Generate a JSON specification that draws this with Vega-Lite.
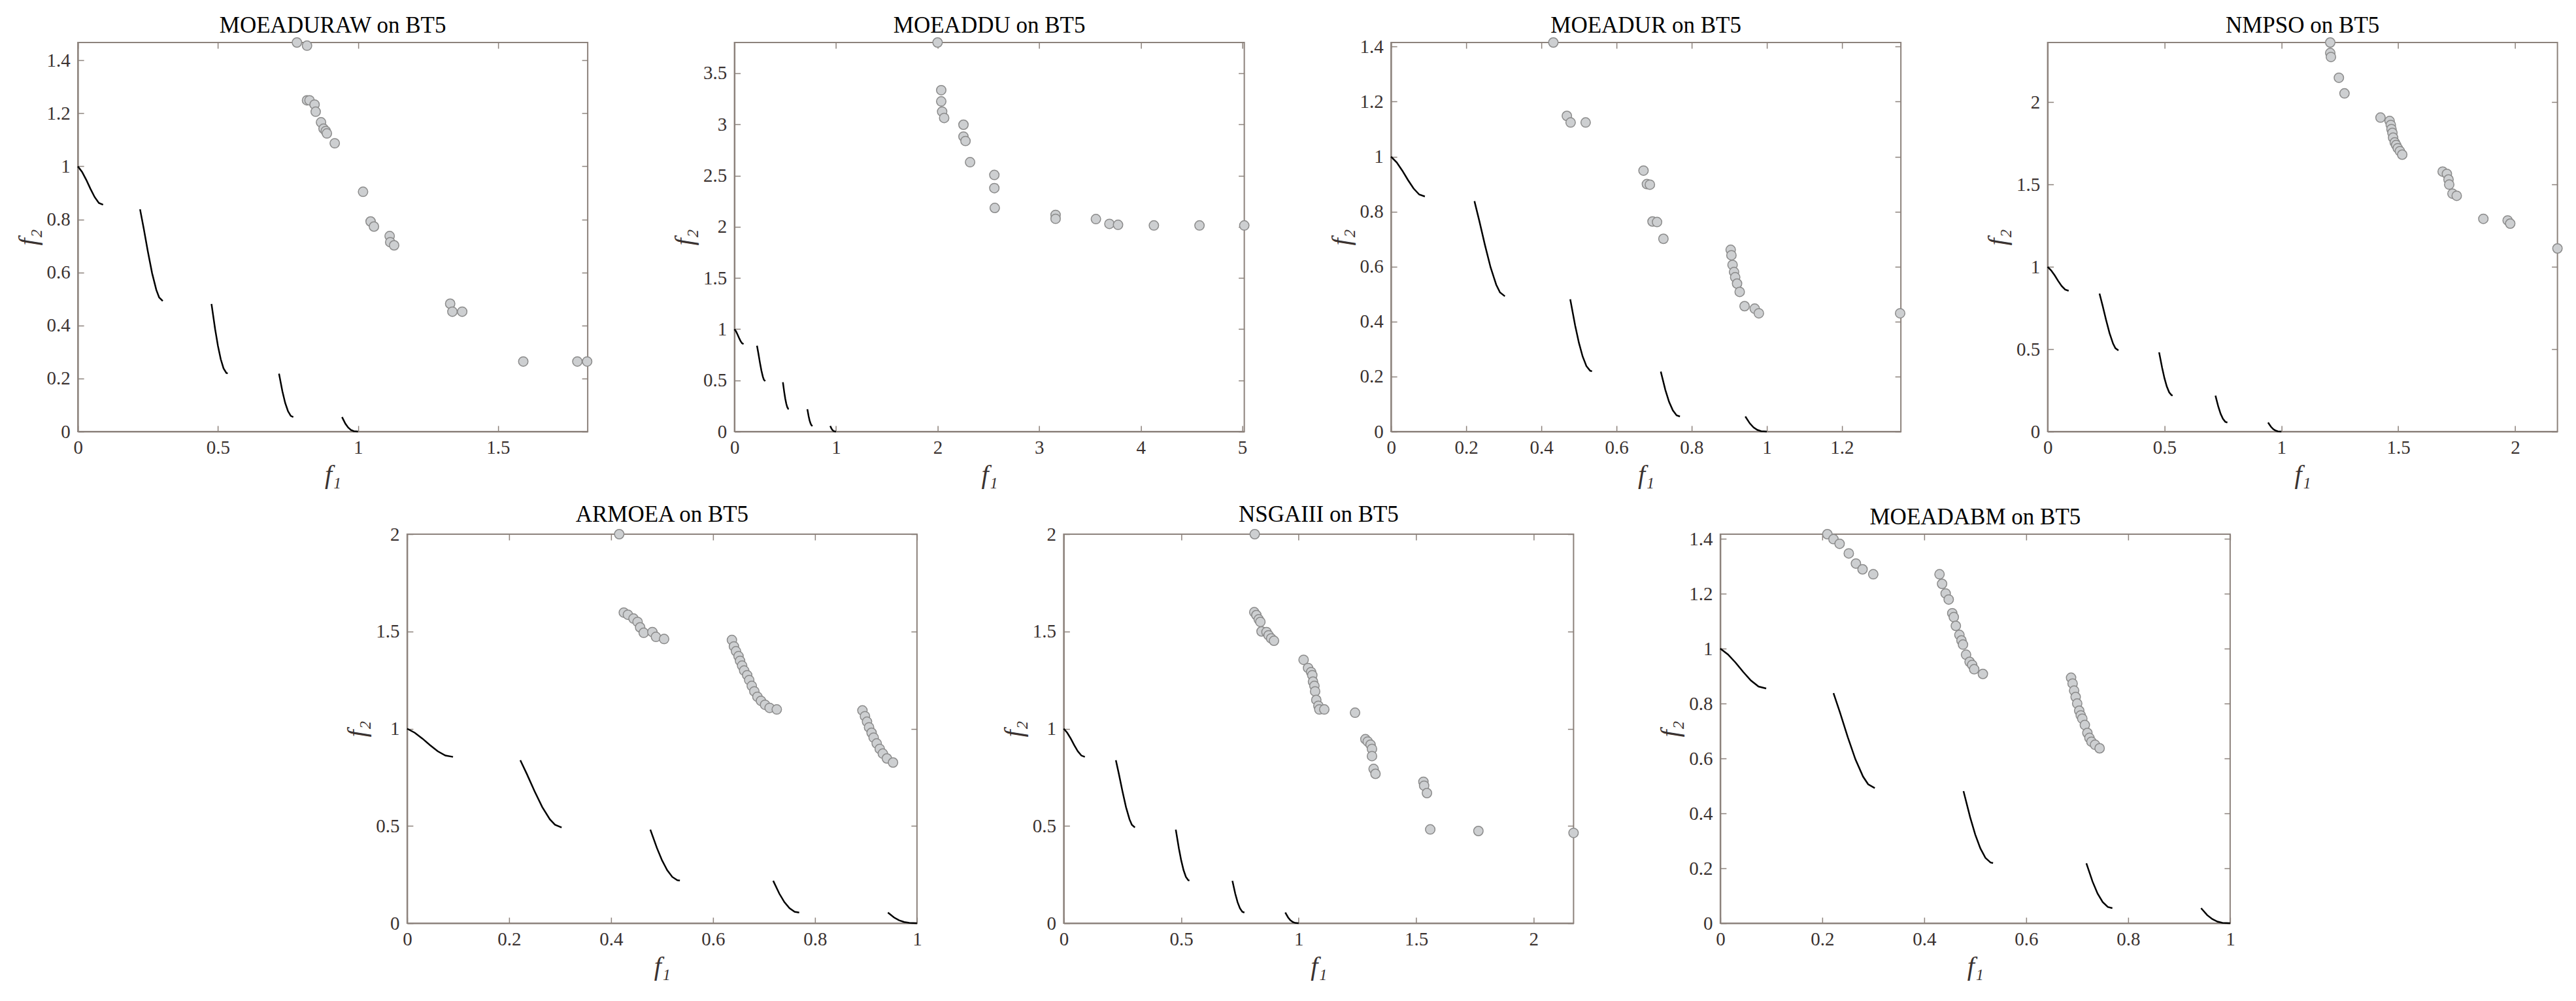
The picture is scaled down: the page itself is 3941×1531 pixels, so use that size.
{
  "$schema": "https://vega.github.io/schema/vega-lite/v6.json",
  "background": "white",
  "padding": {"left": 22, "top": 20, "right": 5, "bottom": 5},
  "datasets": {
    "pf": [
      {"seg": 1, "f1": 0.0, "f2": 1.0}, {"seg": 1, "f1": 0.015, "f2": 0.979}, {"seg": 1, "f1": 0.03, "f2": 0.949}, {"seg": 1, "f1": 0.045, "f2": 0.915}, {"seg": 1, "f1": 0.06, "f2": 0.884}, {"seg": 1, "f1": 0.075, "f2": 0.862}, {"seg": 1, "f1": 0.09, "f2": 0.855},
      {"seg": 2, "f1": 0.222, "f2": 0.838}, {"seg": 2, "f1": 0.235, "f2": 0.766}, {"seg": 2, "f1": 0.25, "f2": 0.678}, {"seg": 2, "f1": 0.265, "f2": 0.597}, {"seg": 2, "f1": 0.28, "f2": 0.534}, {"seg": 2, "f1": 0.29, "f2": 0.506}, {"seg": 2, "f1": 0.303, "f2": 0.492},
      {"seg": 3, "f1": 0.477, "f2": 0.481}, {"seg": 3, "f1": 0.49, "f2": 0.386}, {"seg": 3, "f1": 0.5, "f2": 0.323}, {"seg": 3, "f1": 0.51, "f2": 0.273}, {"seg": 3, "f1": 0.52, "f2": 0.238}, {"seg": 3, "f1": 0.53, "f2": 0.221}, {"seg": 3, "f1": 0.535, "f2": 0.219},
      {"seg": 4, "f1": 0.718, "f2": 0.218}, {"seg": 4, "f1": 0.73, "f2": 0.152}, {"seg": 4, "f1": 0.74, "f2": 0.108}, {"seg": 4, "f1": 0.75, "f2": 0.077}, {"seg": 4, "f1": 0.76, "f2": 0.059}, {"seg": 4, "f1": 0.769, "f2": 0.0547},
      {"seg": 5, "f1": 0.943, "f2": 0.0547}, {"seg": 5, "f1": 0.955, "f2": 0.0295}, {"seg": 5, "f1": 0.965, "f2": 0.0149}, {"seg": 5, "f1": 0.975, "f2": 0.0059}, {"seg": 5, "f1": 0.985, "f2": 0.0014}, {"seg": 5, "f1": 1.0, "f2": 0.0}
    ],
    "pop": [
      {"alg": "MOEADURAW", "f1": 0.782, "f2": 1.467}, {"alg": "MOEADURAW", "f1": 0.818, "f2": 1.455}, {"alg": "MOEADURAW", "f1": 0.818, "f2": 1.249}, {"alg": "MOEADURAW", "f1": 0.827, "f2": 1.249}, {"alg": "MOEADURAW", "f1": 0.845, "f2": 1.233}, {"alg": "MOEADURAW", "f1": 0.849, "f2": 1.206}, {"alg": "MOEADURAW", "f1": 0.868, "f2": 1.166}, {"alg": "MOEADURAW", "f1": 0.877, "f2": 1.142}, {"alg": "MOEADURAW", "f1": 0.885, "f2": 1.133}, {"alg": "MOEADURAW", "f1": 0.889, "f2": 1.124}, {"alg": "MOEADURAW", "f1": 0.917, "f2": 1.087}, {"alg": "MOEADURAW", "f1": 1.018, "f2": 0.904}, {"alg": "MOEADURAW", "f1": 1.045, "f2": 0.792}, {"alg": "MOEADURAW", "f1": 1.057, "f2": 0.773}, {"alg": "MOEADURAW", "f1": 1.113, "f2": 0.737}, {"alg": "MOEADURAW", "f1": 1.115, "f2": 0.714}, {"alg": "MOEADURAW", "f1": 1.129, "f2": 0.702}, {"alg": "MOEADURAW", "f1": 1.329, "f2": 0.482}, {"alg": "MOEADURAW", "f1": 1.337, "f2": 0.452}, {"alg": "MOEADURAW", "f1": 1.372, "f2": 0.452}, {"alg": "MOEADURAW", "f1": 1.59, "f2": 0.264}, {"alg": "MOEADURAW", "f1": 1.783, "f2": 0.264}, {"alg": "MOEADURAW", "f1": 1.818, "f2": 0.264},
      {"alg": "MOEADDU", "f1": 2.0, "f2": 3.8}, {"alg": "MOEADDU", "f1": 2.036, "f2": 3.334}, {"alg": "MOEADDU", "f1": 2.036, "f2": 3.225}, {"alg": "MOEADDU", "f1": 2.045, "f2": 3.125}, {"alg": "MOEADDU", "f1": 2.065, "f2": 3.063}, {"alg": "MOEADDU", "f1": 2.255, "f2": 2.997}, {"alg": "MOEADDU", "f1": 2.255, "f2": 2.881}, {"alg": "MOEADDU", "f1": 2.275, "f2": 2.838}, {"alg": "MOEADDU", "f1": 2.32, "f2": 2.631}, {"alg": "MOEADDU", "f1": 2.559, "f2": 2.506}, {"alg": "MOEADDU", "f1": 2.559, "f2": 2.378}, {"alg": "MOEADDU", "f1": 2.563, "f2": 2.184}, {"alg": "MOEADDU", "f1": 3.162, "f2": 2.116}, {"alg": "MOEADDU", "f1": 3.162, "f2": 2.078}, {"alg": "MOEADDU", "f1": 3.559, "f2": 2.075}, {"alg": "MOEADDU", "f1": 3.692, "f2": 2.028}, {"alg": "MOEADDU", "f1": 3.777, "f2": 2.019}, {"alg": "MOEADDU", "f1": 4.13, "f2": 2.013}, {"alg": "MOEADDU", "f1": 4.579, "f2": 2.013}, {"alg": "MOEADDU", "f1": 5.02, "f2": 2.013},
      {"alg": "MOEADUR", "f1": 0.432, "f2": 1.415}, {"alg": "MOEADUR", "f1": 0.468, "f2": 1.148}, {"alg": "MOEADUR", "f1": 0.478, "f2": 1.124}, {"alg": "MOEADUR", "f1": 0.518, "f2": 1.124}, {"alg": "MOEADUR", "f1": 0.672, "f2": 0.949}, {"alg": "MOEADUR", "f1": 0.681, "f2": 0.9}, {"alg": "MOEADUR", "f1": 0.689, "f2": 0.898}, {"alg": "MOEADUR", "f1": 0.696, "f2": 0.764}, {"alg": "MOEADUR", "f1": 0.708, "f2": 0.762}, {"alg": "MOEADUR", "f1": 0.725, "f2": 0.701}, {"alg": "MOEADUR", "f1": 0.904, "f2": 0.661}, {"alg": "MOEADUR", "f1": 0.906, "f2": 0.641}, {"alg": "MOEADUR", "f1": 0.909, "f2": 0.606}, {"alg": "MOEADUR", "f1": 0.913, "f2": 0.58}, {"alg": "MOEADUR", "f1": 0.916, "f2": 0.561}, {"alg": "MOEADUR", "f1": 0.921, "f2": 0.538}, {"alg": "MOEADUR", "f1": 0.928, "f2": 0.508}, {"alg": "MOEADUR", "f1": 0.941, "f2": 0.456}, {"alg": "MOEADUR", "f1": 0.968, "f2": 0.447}, {"alg": "MOEADUR", "f1": 0.979, "f2": 0.43}, {"alg": "MOEADUR", "f1": 1.355, "f2": 0.43},
      {"alg": "NMPSO", "f1": 1.209, "f2": 2.363}, {"alg": "NMPSO", "f1": 1.209, "f2": 2.299}, {"alg": "NMPSO", "f1": 1.212, "f2": 2.275}, {"alg": "NMPSO", "f1": 1.246, "f2": 2.149}, {"alg": "NMPSO", "f1": 1.27, "f2": 2.054}, {"alg": "NMPSO", "f1": 1.424, "f2": 1.907}, {"alg": "NMPSO", "f1": 1.463, "f2": 1.886}, {"alg": "NMPSO", "f1": 1.468, "f2": 1.862}, {"alg": "NMPSO", "f1": 1.471, "f2": 1.837}, {"alg": "NMPSO", "f1": 1.475, "f2": 1.814}, {"alg": "NMPSO", "f1": 1.478, "f2": 1.785}, {"alg": "NMPSO", "f1": 1.485, "f2": 1.756}, {"alg": "NMPSO", "f1": 1.491, "f2": 1.74}, {"alg": "NMPSO", "f1": 1.498, "f2": 1.721}, {"alg": "NMPSO", "f1": 1.507, "f2": 1.703}, {"alg": "NMPSO", "f1": 1.517, "f2": 1.682}, {"alg": "NMPSO", "f1": 1.69, "f2": 1.579}, {"alg": "NMPSO", "f1": 1.708, "f2": 1.565}, {"alg": "NMPSO", "f1": 1.715, "f2": 1.531}, {"alg": "NMPSO", "f1": 1.718, "f2": 1.5}, {"alg": "NMPSO", "f1": 1.732, "f2": 1.445}, {"alg": "NMPSO", "f1": 1.75, "f2": 1.432}, {"alg": "NMPSO", "f1": 1.864, "f2": 1.292}, {"alg": "NMPSO", "f1": 1.968, "f2": 1.282}, {"alg": "NMPSO", "f1": 1.979, "f2": 1.263}, {"alg": "NMPSO", "f1": 2.181, "f2": 1.112},
      {"alg": "ARMOEA", "f1": 0.416, "f2": 2.0}, {"alg": "ARMOEA", "f1": 0.425, "f2": 1.597}, {"alg": "ARMOEA", "f1": 0.433, "f2": 1.586}, {"alg": "ARMOEA", "f1": 0.444, "f2": 1.566}, {"alg": "ARMOEA", "f1": 0.452, "f2": 1.549}, {"alg": "ARMOEA", "f1": 0.457, "f2": 1.521}, {"alg": "ARMOEA", "f1": 0.464, "f2": 1.493}, {"alg": "ARMOEA", "f1": 0.481, "f2": 1.497}, {"alg": "ARMOEA", "f1": 0.488, "f2": 1.472}, {"alg": "ARMOEA", "f1": 0.504, "f2": 1.461},
      {"alg": "ARMOEA", "f1": 0.637, "f2": 1.456}, {"alg": "ARMOEA", "f1": 0.641, "f2": 1.423}, {"alg": "ARMOEA", "f1": 0.645, "f2": 1.398}, {"alg": "ARMOEA", "f1": 0.65, "f2": 1.373}, {"alg": "ARMOEA", "f1": 0.653, "f2": 1.349}, {"alg": "ARMOEA", "f1": 0.657, "f2": 1.324}, {"alg": "ARMOEA", "f1": 0.661, "f2": 1.299}, {"alg": "ARMOEA", "f1": 0.667, "f2": 1.275}, {"alg": "ARMOEA", "f1": 0.671, "f2": 1.25}, {"alg": "ARMOEA", "f1": 0.676, "f2": 1.22}, {"alg": "ARMOEA", "f1": 0.681, "f2": 1.192}, {"alg": "ARMOEA", "f1": 0.687, "f2": 1.164}, {"alg": "ARMOEA", "f1": 0.694, "f2": 1.143}, {"alg": "ARMOEA", "f1": 0.702, "f2": 1.123}, {"alg": "ARMOEA", "f1": 0.711, "f2": 1.107}, {"alg": "ARMOEA", "f1": 0.725, "f2": 1.099},
      {"alg": "ARMOEA", "f1": 0.893, "f2": 1.094}, {"alg": "ARMOEA", "f1": 0.898, "f2": 1.064}, {"alg": "ARMOEA", "f1": 0.902, "f2": 1.036}, {"alg": "ARMOEA", "f1": 0.906, "f2": 1.007}, {"alg": "ARMOEA", "f1": 0.911, "f2": 0.979}, {"alg": "ARMOEA", "f1": 0.915, "f2": 0.954}, {"alg": "ARMOEA", "f1": 0.921, "f2": 0.924}, {"alg": "ARMOEA", "f1": 0.927, "f2": 0.896}, {"alg": "ARMOEA", "f1": 0.933, "f2": 0.872}, {"alg": "ARMOEA", "f1": 0.941, "f2": 0.847}, {"alg": "ARMOEA", "f1": 0.953, "f2": 0.826},
      {"alg": "NSGAIII", "f1": 0.813, "f2": 2.0}, {"alg": "NSGAIII", "f1": 0.811, "f2": 1.599}, {"alg": "NSGAIII", "f1": 0.82, "f2": 1.584}, {"alg": "NSGAIII", "f1": 0.83, "f2": 1.562}, {"alg": "NSGAIII", "f1": 0.837, "f2": 1.549}, {"alg": "NSGAIII", "f1": 0.842, "f2": 1.5}, {"alg": "NSGAIII", "f1": 0.863, "f2": 1.497}, {"alg": "NSGAIII", "f1": 0.872, "f2": 1.48}, {"alg": "NSGAIII", "f1": 0.883, "f2": 1.464}, {"alg": "NSGAIII", "f1": 0.895, "f2": 1.452},
      {"alg": "NSGAIII", "f1": 1.021, "f2": 1.354}, {"alg": "NSGAIII", "f1": 1.04, "f2": 1.312}, {"alg": "NSGAIII", "f1": 1.053, "f2": 1.291}, {"alg": "NSGAIII", "f1": 1.058, "f2": 1.275}, {"alg": "NSGAIII", "f1": 1.061, "f2": 1.242}, {"alg": "NSGAIII", "f1": 1.067, "f2": 1.22}, {"alg": "NSGAIII", "f1": 1.07, "f2": 1.192}, {"alg": "NSGAIII", "f1": 1.075, "f2": 1.148}, {"alg": "NSGAIII", "f1": 1.084, "f2": 1.118}, {"alg": "NSGAIII", "f1": 1.088, "f2": 1.099}, {"alg": "NSGAIII", "f1": 1.109, "f2": 1.099},
      {"alg": "NSGAIII", "f1": 1.24, "f2": 1.082}, {"alg": "NSGAIII", "f1": 1.284, "f2": 0.946}, {"alg": "NSGAIII", "f1": 1.294, "f2": 0.934}, {"alg": "NSGAIII", "f1": 1.306, "f2": 0.918}, {"alg": "NSGAIII", "f1": 1.312, "f2": 0.896}, {"alg": "NSGAIII", "f1": 1.312, "f2": 0.859}, {"alg": "NSGAIII", "f1": 1.319, "f2": 0.793}, {"alg": "NSGAIII", "f1": 1.327, "f2": 0.768}, {"alg": "NSGAIII", "f1": 1.531, "f2": 0.727}, {"alg": "NSGAIII", "f1": 1.534, "f2": 0.707}, {"alg": "NSGAIII", "f1": 1.546, "f2": 0.669}, {"alg": "NSGAIII", "f1": 1.56, "f2": 0.482}, {"alg": "NSGAIII", "f1": 1.765, "f2": 0.474}, {"alg": "NSGAIII", "f1": 2.17, "f2": 0.464},
      {"alg": "MOEADABM", "f1": 0.21, "f2": 1.417}, {"alg": "MOEADABM", "f1": 0.222, "f2": 1.399}, {"alg": "MOEADABM", "f1": 0.234, "f2": 1.382}, {"alg": "MOEADABM", "f1": 0.252, "f2": 1.347}, {"alg": "MOEADABM", "f1": 0.266, "f2": 1.31}, {"alg": "MOEADABM", "f1": 0.279, "f2": 1.289}, {"alg": "MOEADABM", "f1": 0.3, "f2": 1.271},
      {"alg": "MOEADABM", "f1": 0.43, "f2": 1.271}, {"alg": "MOEADABM", "f1": 0.435, "f2": 1.236}, {"alg": "MOEADABM", "f1": 0.442, "f2": 1.201}, {"alg": "MOEADABM", "f1": 0.448, "f2": 1.179}, {"alg": "MOEADABM", "f1": 0.455, "f2": 1.129}, {"alg": "MOEADABM", "f1": 0.458, "f2": 1.115}, {"alg": "MOEADABM", "f1": 0.462, "f2": 1.083}, {"alg": "MOEADABM", "f1": 0.469, "f2": 1.05}, {"alg": "MOEADABM", "f1": 0.473, "f2": 1.03}, {"alg": "MOEADABM", "f1": 0.476, "f2": 1.015}, {"alg": "MOEADABM", "f1": 0.482, "f2": 0.978}, {"alg": "MOEADABM", "f1": 0.489, "f2": 0.952}, {"alg": "MOEADABM", "f1": 0.494, "f2": 0.941}, {"alg": "MOEADABM", "f1": 0.498, "f2": 0.925}, {"alg": "MOEADABM", "f1": 0.515, "f2": 0.908},
      {"alg": "MOEADABM", "f1": 0.688, "f2": 0.894}, {"alg": "MOEADABM", "f1": 0.691, "f2": 0.873}, {"alg": "MOEADABM", "f1": 0.694, "f2": 0.847}, {"alg": "MOEADABM", "f1": 0.697, "f2": 0.824}, {"alg": "MOEADABM", "f1": 0.7, "f2": 0.8}, {"alg": "MOEADABM", "f1": 0.704, "f2": 0.774}, {"alg": "MOEADABM", "f1": 0.707, "f2": 0.757}, {"alg": "MOEADABM", "f1": 0.71, "f2": 0.745}, {"alg": "MOEADABM", "f1": 0.715, "f2": 0.722}, {"alg": "MOEADABM", "f1": 0.72, "f2": 0.693}, {"alg": "MOEADABM", "f1": 0.724, "f2": 0.675}, {"alg": "MOEADABM", "f1": 0.728, "f2": 0.661}, {"alg": "MOEADABM", "f1": 0.735, "f2": 0.65}, {"alg": "MOEADABM", "f1": 0.744, "f2": 0.637}
    ]
  },
  "vconcat": [
    {
      "hconcat": [
        {
          "width": 780, "height": 595,
          "title": {"text": "MOEADURAW on BT5"},
          "layer": [
            {"data": {"name": "pf"}, "mark": {"type": "line", "color": "#000000", "strokeWidth": 2.5},
             "encoding": {
               "x": {"field": "f1", "type": "quantitative", "scale": {"domain": [0, 1.82], "nice": false, "zero": false}, "axis": {"values": [0, 0.5, 1, 1.5], "format": "~g", "title": "f₁"}},
               "y": {"field": "f2", "type": "quantitative", "scale": {"domain": [0, 1.467], "nice": false, "zero": false}, "axis": {"values": [0, 0.2, 0.4, 0.6, 0.8, 1, 1.2, 1.4], "format": "~g", "title": "f₂"}},
               "detail": {"field": "seg", "type": "nominal"}}},
            {"data": {"name": "pop"}, "transform": [{"filter": "datum.alg == 'MOEADURAW'"}],
             "mark": {"type": "circle", "size": 210, "fill": "#cdcfd1", "stroke": "#8b8b8b", "strokeWidth": 1.5, "opacity": 1},
             "encoding": {"x": {"field": "f1", "type": "quantitative"}, "y": {"field": "f2", "type": "quantitative"}}}
          ]
        },
        {
          "width": 780, "height": 595,
          "title": {"text": "MOEADDU on BT5"},
          "layer": [
            {"data": {"name": "pf"}, "mark": {"type": "line", "color": "#000000", "strokeWidth": 2.5},
             "encoding": {
               "x": {"field": "f1", "type": "quantitative", "scale": {"domain": [0, 5.02], "nice": false, "zero": false}, "axis": {"values": [0, 1, 2, 3, 4, 5], "format": "~g", "title": "f₁"}},
               "y": {"field": "f2", "type": "quantitative", "scale": {"domain": [0, 3.8], "nice": false, "zero": false}, "axis": {"values": [0, 0.5, 1, 1.5, 2, 2.5, 3, 3.5], "format": "~g", "title": "f₂"}},
               "detail": {"field": "seg", "type": "nominal"}}},
            {"data": {"name": "pop"}, "transform": [{"filter": "datum.alg == 'MOEADDU'"}],
             "mark": {"type": "circle", "size": 210, "fill": "#cdcfd1", "stroke": "#8b8b8b", "strokeWidth": 1.5, "opacity": 1},
             "encoding": {"x": {"field": "f1", "type": "quantitative"}, "y": {"field": "f2", "type": "quantitative"}}}
          ]
        },
        {
          "width": 780, "height": 595,
          "title": {"text": "MOEADUR on BT5"},
          "layer": [
            {"data": {"name": "pf"}, "mark": {"type": "line", "color": "#000000", "strokeWidth": 2.5},
             "encoding": {
               "x": {"field": "f1", "type": "quantitative", "scale": {"domain": [0, 1.357], "nice": false, "zero": false}, "axis": {"values": [0, 0.2, 0.4, 0.6, 0.8, 1, 1.2], "format": "~g", "title": "f₁"}},
               "y": {"field": "f2", "type": "quantitative", "scale": {"domain": [0, 1.415], "nice": false, "zero": false}, "axis": {"values": [0, 0.2, 0.4, 0.6, 0.8, 1, 1.2, 1.4], "format": "~g", "title": "f₂"}},
               "detail": {"field": "seg", "type": "nominal"}}},
            {"data": {"name": "pop"}, "transform": [{"filter": "datum.alg == 'MOEADUR'"}],
             "mark": {"type": "circle", "size": 210, "fill": "#cdcfd1", "stroke": "#8b8b8b", "strokeWidth": 1.5, "opacity": 1},
             "encoding": {"x": {"field": "f1", "type": "quantitative"}, "y": {"field": "f2", "type": "quantitative"}}}
          ]
        },
        {
          "width": 780, "height": 595,
          "title": {"text": "NMPSO on BT5"},
          "layer": [
            {"data": {"name": "pf"}, "mark": {"type": "line", "color": "#000000", "strokeWidth": 2.5},
             "encoding": {
               "x": {"field": "f1", "type": "quantitative", "scale": {"domain": [0, 2.181], "nice": false, "zero": false}, "axis": {"values": [0, 0.5, 1, 1.5, 2], "format": "~g", "title": "f₁"}},
               "y": {"field": "f2", "type": "quantitative", "scale": {"domain": [0, 2.363], "nice": false, "zero": false}, "axis": {"values": [0, 0.5, 1, 1.5, 2], "format": "~g", "title": "f₂"}},
               "detail": {"field": "seg", "type": "nominal"}}},
            {"data": {"name": "pop"}, "transform": [{"filter": "datum.alg == 'NMPSO'"}],
             "mark": {"type": "circle", "size": 210, "fill": "#cdcfd1", "stroke": "#8b8b8b", "strokeWidth": 1.5, "opacity": 1},
             "encoding": {"x": {"field": "f1", "type": "quantitative"}, "y": {"field": "f2", "type": "quantitative"}}}
          ]
        }
      ],
      "spacing": 224.5,
      "bounds": "flush"
    },
    {
      "hconcat": [
        {
          "width": 780, "height": 595,
          "title": {"text": "ARMOEA on BT5"},
          "layer": [
            {"data": {"name": "pf"}, "mark": {"type": "line", "color": "#000000", "strokeWidth": 2.5},
             "encoding": {
               "x": {"field": "f1", "type": "quantitative", "scale": {"domain": [0, 1], "nice": false, "zero": false}, "axis": {"values": [0, 0.2, 0.4, 0.6, 0.8, 1], "format": "~g", "title": "f₁"}},
               "y": {"field": "f2", "type": "quantitative", "scale": {"domain": [0, 2.0], "nice": false, "zero": false}, "axis": {"values": [0, 0.5, 1, 1.5, 2], "format": "~g", "title": "f₂"}},
               "detail": {"field": "seg", "type": "nominal"}}},
            {"data": {"name": "pop"}, "transform": [{"filter": "datum.alg == 'ARMOEA'"}],
             "mark": {"type": "circle", "size": 210, "fill": "#cdcfd1", "stroke": "#8b8b8b", "strokeWidth": 1.5, "opacity": 1},
             "encoding": {"x": {"field": "f1", "type": "quantitative"}, "y": {"field": "f2", "type": "quantitative"}}}
          ]
        },
        {
          "width": 780, "height": 595,
          "title": {"text": "NSGAIII on BT5"},
          "layer": [
            {"data": {"name": "pf"}, "mark": {"type": "line", "color": "#000000", "strokeWidth": 2.5},
             "encoding": {
               "x": {"field": "f1", "type": "quantitative", "scale": {"domain": [0, 2.17], "nice": false, "zero": false}, "axis": {"values": [0, 0.5, 1, 1.5, 2], "format": "~g", "title": "f₁"}},
               "y": {"field": "f2", "type": "quantitative", "scale": {"domain": [0, 2.0], "nice": false, "zero": false}, "axis": {"values": [0, 0.5, 1, 1.5, 2], "format": "~g", "title": "f₂"}},
               "detail": {"field": "seg", "type": "nominal"}}},
            {"data": {"name": "pop"}, "transform": [{"filter": "datum.alg == 'NSGAIII'"}],
             "mark": {"type": "circle", "size": 210, "fill": "#cdcfd1", "stroke": "#8b8b8b", "strokeWidth": 1.5, "opacity": 1},
             "encoding": {"x": {"field": "f1", "type": "quantitative"}, "y": {"field": "f2", "type": "quantitative"}}}
          ]
        },
        {
          "width": 780, "height": 595,
          "title": {"text": "MOEADABM on BT5"},
          "layer": [
            {"data": {"name": "pf"}, "mark": {"type": "line", "color": "#000000", "strokeWidth": 2.5},
             "encoding": {
               "x": {"field": "f1", "type": "quantitative", "scale": {"domain": [0, 1], "nice": false, "zero": false}, "axis": {"values": [0, 0.2, 0.4, 0.6, 0.8, 1], "format": "~g", "title": "f₁"}},
               "y": {"field": "f2", "type": "quantitative", "scale": {"domain": [0, 1.417], "nice": false, "zero": false}, "axis": {"values": [0, 0.2, 0.4, 0.6, 0.8, 1, 1.2, 1.4], "format": "~g", "title": "f₂"}},
               "detail": {"field": "seg", "type": "nominal"}}},
            {"data": {"name": "pop"}, "transform": [{"filter": "datum.alg == 'MOEADABM'"}],
             "mark": {"type": "circle", "size": 210, "fill": "#cdcfd1", "stroke": "#8b8b8b", "strokeWidth": 1.5, "opacity": 1},
             "encoding": {"x": {"field": "f1", "type": "quantitative"}, "y": {"field": "f2", "type": "quantitative"}}}
          ]
        }
      ],
      "spacing": 224.5,
      "bounds": "flush"
    }
  ],
  "spacing": 22,
  "center": true,
  "config": {
    "view": {"stroke": "#8c827c", "strokeWidth": 2},
    "font": "Liberation Serif",
    "title": {"font": "Liberation Serif", "fontSize": 35, "fontWeight": "normal", "color": "#000000", "frame": "group", "offset": -2},
    "axis": {
      "domainColor": "#8c827c", "domainWidth": 2,
      "ticks": false,
      "grid": true, "gridColor": "#8c827c", "gridWidth": 1.5, "gridOpacity": 1,
      "labelFont": "Liberation Serif", "labelFontSize": 29, "labelColor": "#3a3230",
      "labelFlush": false, "labelOverlap": false,
      "titleFont": "Liberation Serif", "titleFontSize": 40, "titleFontStyle": "italic", "titleFontWeight": "normal", "titleColor": "#3a3230"
    },
    "axisX": {"gridDash": [9, 577, 9, 3000], "labelPadding": 10, "minExtent": 40, "maxExtent": 40, "titlePadding": 6},
    "axisY": {"gridDash": [9, 762, 9, 3000], "labelPadding": 12, "minExtent": 50, "maxExtent": 50, "titlePadding": 6}
  }
}
